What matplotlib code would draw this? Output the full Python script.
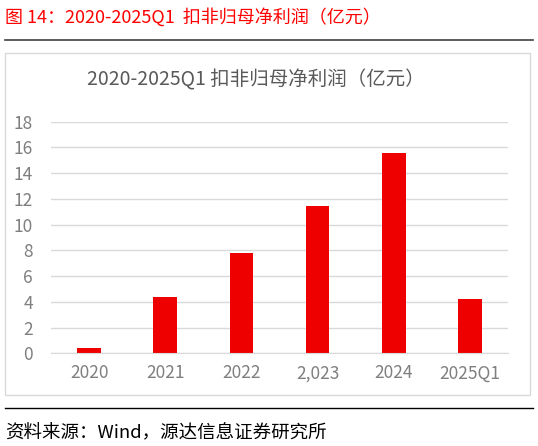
import matplotlib
matplotlib.use('Agg')
import matplotlib.pyplot as plt
from matplotlib.patches import Rectangle

plt.rcParams['font.family'] = ['Noto Sans CJK SC', 'DejaVu Sans']

categories = ['2020', '2021', '2022', '2,023', '2024', '2025Q1']
profit = [0.39, 4.35, 7.77, 11.47, 15.56, 4.2]
yticks = [0, 2, 4, 6, 8, 10, 12, 14, 16, 18]

W, H = 538, 446
fig = plt.figure(figsize=(W / 100, H / 100), dpi=100)

# header and footer
fig.text(5 / W, 1 - 17 / H, '图 14：2020-2025Q1  扣非归母净利润（亿元）',
         color='#FF0000', fontsize=13, va='center', ha='left')
fig.add_artist(plt.Line2D([5 / W, 533 / W], [1 - 40 / H, 1 - 40 / H],
                          color='#404040', lw=1.2))
fig.add_artist(Rectangle((5 / W, 1 - 395 / H), 525 / W, 342 / H,
                         fill=False, edgecolor='#D9D9D9', lw=1.0))
fig.add_artist(plt.Line2D([5 / W, 533 / W], [1 - 408 / H, 1 - 408 / H],
                          color='black', lw=1.0))
fig.text(5 / W, 1 - 433 / H, '资料来源：Wind，源达信息证券研究所',
         color='black', fontsize=13.3, va='center', ha='left')

# chart
fig.text(256 / W, 1 - 80 / H, '2020-2025Q1 扣非归母净利润（亿元）',
         color='#595959', fontsize=14, va='center', ha='center')

ax = fig.add_axes([51 / W, 1 - 353.3 / H, 457 / W, 231.6 / H])
x = range(len(categories))
ax.bar(x, profit, width=0.31, color='#EE0000')
ax.set_ylim(0, 18)
ax.set_xlim(-0.5, len(categories) - 0.5)
ax.set_yticks(yticks)
ax.set_xticks(list(x))
ax.set_xticklabels(categories)
ax.yaxis.grid(True, color='#D9D9D9', lw=1.0)
ax.set_axisbelow(True)
for s in ['top', 'right', 'left']:
    ax.spines[s].set_visible(False)
ax.spines['bottom'].set_color('#D9D9D9')
ax.tick_params(axis='both', length=0, labelcolor='#7F7F7F', labelsize=12.5)
ax.tick_params(axis='x', pad=8)
ax.tick_params(axis='y', pad=13)

fig.savefig('out.png', dpi=100)
